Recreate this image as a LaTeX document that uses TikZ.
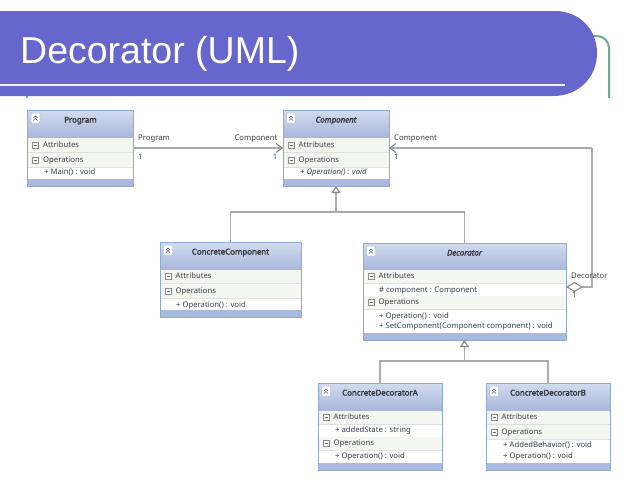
\documentclass[tikz,border=0pt]{standalone}
\usepackage{fontspec}
\setmainfont{Noto Sans}
\newfontfamily\titlefont{Liberation Sans}
\newfontfamily\headfont[FakeBold=1.6]{Noto Sans}
\usetikzlibrary{arrows.meta}
\definecolor{band}{HTML}{6666CC}
\definecolor{teal}{HTML}{6FA898}
\definecolor{edge}{HTML}{8FA9D4}
\definecolor{headtop}{HTML}{D3DCEE}
\definecolor{headbot}{HTML}{A7B6DC}
\definecolor{barc}{HTML}{AAB9DF}
\definecolor{rowc}{HTML}{F4F7F0}
\definecolor{linkc}{HTML}{A9ACAE}
\definecolor{tipc}{HTML}{85888A}
\definecolor{txt}{HTML}{3A3F48}
\tikzset{
  x=1pt,y=-1pt,
  classbox/.style={draw=edge,line width=1pt,fill=barc,anchor=north west,inner sep=0pt,outer sep=0pt},
  uml/.style={font=\fontsize{7.7}{9}\selectfont,text=txt,inner sep=0pt,text height=6pt,text depth=2pt},
  member/.style={uml,anchor=west},
  titletxt/.style={font=\headfont\fontsize{7.9}{9}\selectfont,text=txt!80!black,inner sep=0pt,text height=6pt,text depth=2pt},
  absttxt/.style={titletxt,font=\headfont\fontsize{7.9}{9}\selectfont\itshape},
  link/.style={draw=linkc,line width=1.1pt},
  inh/.style={link,-{Triangle[open,fill=white,color=tipc,length=7pt,width=9pt]}},
  assoc/.style={link,-{Straight Barb[color=tipc,length=6pt,width=9pt]}},
  aggr/.style={link,{Diamond[open,fill=white,color=tipc,length=17pt,width=10pt]}-},
}
% name, x1, y1, x2, y2, title, title style, header bottom
\newcommand\umlclass[8]{%
  \pgfmathsetmacro\boxw{#4-#2}\pgfmathsetmacro\boxh{#5-#3}%
  \node[classbox,minimum width=\boxw pt,minimum height=\boxh pt] (#1) at (#2,#3) {};
  \shade[top color=headtop,bottom color=headbot] (#2,#3) rectangle (#4,#8);
  \fill[white] (#2,#8) rectangle (#4,#5-7);
  \draw[edge,line width=1pt] (#2,#3) rectangle (#4,#5);
  \node[#7] (#1-title) at ({(#2+#4)/2},#3+10.5) {#6};
  \fill[white,draw=edge!70,line width=.5pt,rounded corners=1pt] (#2+3.5,#3+3) rectangle (#2+12.5,#3+13);
  \draw[edge!50!black,line width=.5pt] (#2+6,#3+8) -- (#2+8,#3+6) -- (#2+10,#3+8) (#2+6,#3+10.5) -- (#2+8,#3+8.5) -- (#2+10,#3+10.5);
}
% name, x1, x2, y1, y2, label
\newcommand\umlrow[6]{%
  \fill[rowc] (#2+.5,#4) rectangle (#3-.5,#5);
  \draw[black!12,line width=.5pt] (#2+.5,#5) -- (#3-.5,#5);
  \fill[white,draw=black!45,line width=.5pt] (#2+5,{(#4+#5)/2-3}) rectangle (#2+11,{(#4+#5)/2+3});
  \draw[black!60,line width=.6pt] (#2+6.5,{(#4+#5)/2}) -- (#2+9.5,{(#4+#5)/2});
  \node[member] (#1) at (#2+15.5,{(#4+#5)/2}) {#6};
}
\begin{document}
\begin{tikzpicture}
\useasboundingbox (0,0) rectangle (640,480);
\fill[white] (0,0) rectangle (640,480);
% title banner
\draw[teal,line width=2pt] (590,36) -- (597,36) arc[start angle=-90,end angle=0,radius=12] -- (609,98);
\draw[teal,line width=2pt] (27,94) -- (27,98);
\fill[band] (0,11) -- (555,11) .. controls (578,11) and (597,28) .. (597,53) .. controls (597,78) and (578,96) .. (553,96) -- (0,96) -- cycle;
\draw[white!90!band,line width=2pt] (0,85) -- (565,85);
\node[font=\titlefont\fontsize{37.5}{40}\selectfont,text=white,anchor=base west,inner sep=0pt] (heading) at (20,63) {Decorator (UML)};
% classes
\umlclass{program}{27.5}{110}{133.5}{186}{Program}{titletxt}{138}
\umlrow{program-a}{27.5}{133.5}{138}{152}{Attributes}
\umlrow{program-o}{27.5}{133.5}{153}{167}{Operations}
\node[member] (program-m) at (44,172.7) {+ Main() : void};

\umlclass{component}{283}{110}{389}{186}{Component}{absttxt}{138}
\umlrow{component-a}{283}{389}{138}{152}{Attributes}
\umlrow{component-o}{283}{389}{153}{167}{Operations}
\node[member,font=\fontsize{7.7}{9}\selectfont\itshape] (component-m) at (300,172.7) {+ Operation() : void};

\umlclass{concrete}{160}{242}{301}{317}{ConcreteComponent}{titletxt}{270}
\umlrow{concrete-a}{160}{301}{270}{283}{Attributes}
\umlrow{concrete-o}{160}{301}{284.5}{298.5}{Operations}
\node[member] (concrete-m) at (176,305) {+ Operation() : void};

\umlclass{decorator}{363}{243}{566}{340}{Decorator}{absttxt}{270}
\umlrow{decorator-a}{363}{566}{270}{283}{Attributes}
\node[member] (decorator-f) at (379,290) {\# component : Component};
\umlrow{decorator-o}{363}{566}{296}{309}{Operations}
\node[member] (decorator-m1) at (379,316) {+ Operation() : void};
\node[member] (decorator-m2) at (379,326.7) {+ SetComponent(Component component) : void};

\umlclass{cda}{318}{383}{442}{470}{ConcreteDecoratorA}{titletxt}{411}
\umlrow{cda-a}{318}{442}{411}{424}{Attributes}
\node[member] (cda-f) at (335,430.7) {+ addedState : string};
\umlrow{cda-o}{318}{442}{437}{450}{Operations}
\node[member] (cda-m) at (335,456.7) {+ Operation() : void};

\umlclass{cdb}{486}{383}{610}{470}{ConcreteDecoratorB}{titletxt}{411}
\umlrow{cdb-a}{486}{610}{411}{424}{Attributes}
\umlrow{cdb-o}{486}{610}{425}{439}{Operations}
\node[member] (cdb-m1) at (503,445) {+ AddedBehavior() : void};
\node[member] (cdb-m2) at (503,456) {+ Operation() : void};
% connectors
\draw[assoc] (program.east) -- (component.west);
\coordinate (hub1) at (336,212);
\coordinate (hub2) at (464.5,361);
\draw[link] (concrete.north) |- (hub1) -| (decorator.north);
\draw[inh] (hub1) -- (component.south);
\draw[link] (cda.north) |- (hub2) -| (cdb.north);
\draw[inh] (hub2) -- (decorator.south);
\coordinate (aggstart) at ([yshift=4.5pt]decorator.east);
\coordinate (aggturn) at (592,287);
\draw[aggr] (aggstart) -- (aggturn) -- (aggturn |- component.east);
\draw[assoc] (aggturn |- component.east) -- (component.east);
% connector labels
\node[uml,anchor=west] (l1) at (138,138) {Program};
\node[uml,anchor=west] (l2) at (138,157) {1};
\node[uml,anchor=east] (l3) at (277.5,138) {Component};
\node[uml,anchor=east] (l4) at (277.5,157) {1};
\node[uml,anchor=west] (l5) at (394,138) {Component};
\node[uml,anchor=west] (l6) at (394,157) {1};
\node[uml,anchor=west] (l7) at (571,276) {Decorator};
\node[uml,anchor=west] (l8) at (572,295) {1};
\end{tikzpicture}
\end{document}
